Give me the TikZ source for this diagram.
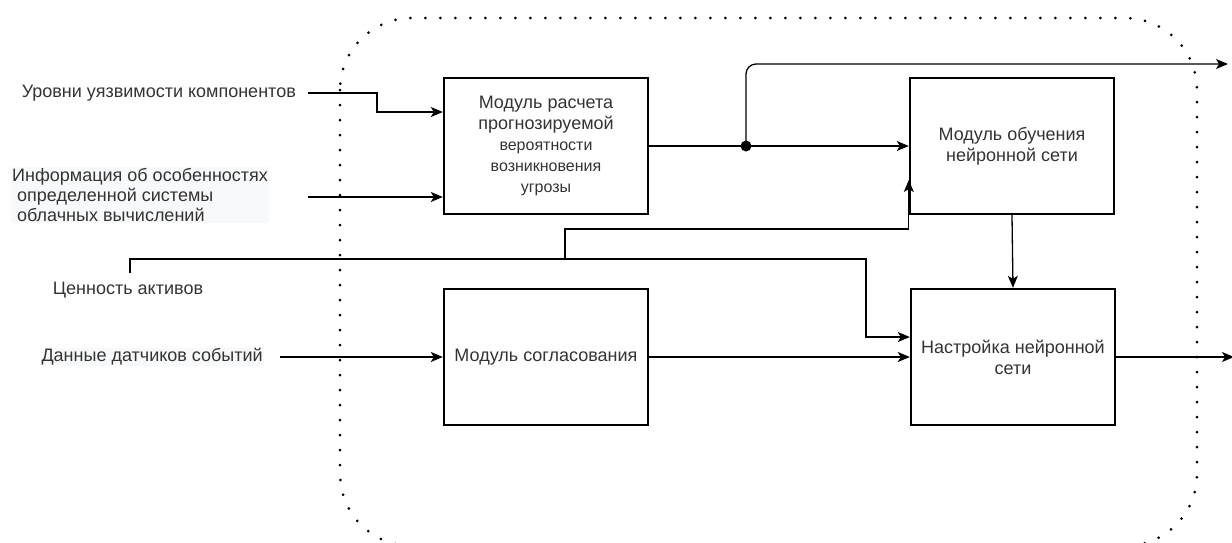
\documentclass[tikz,border=0pt]{standalone}
\usepackage{fontspec}
\setmainfont{Liberation Sans}
\usetikzlibrary{arrows.meta,calc}
\definecolor{txt}{HTML}{333333}
\definecolor{lbg}{HTML}{F8F9FA}
\begin{document}
\begin{tikzpicture}[x=1pt,y=-1pt,
  box/.style={draw=black,line width=2.4pt,minimum width=204pt,minimum height=136pt,inner sep=0pt,align=center,text=txt,font=\fontsize{18}{21}\selectfont},
  lbl/.style={inner sep=0pt,text=txt,font=\fontsize{18}{20}\selectfont},
  conn/.style={draw=black,line width=1.3pt,-{Stealth[length=12pt,width=10pt,inset=3pt]}},
  wire/.style={draw=black,line width=1.3pt},
  frame/.style={draw=black,line width=3pt,dash pattern=on 0pt off 15pt,line cap=round,rounded corners=72pt}
]
\useasboundingbox (0,0) rectangle (1232,542);
% frame
\draw[frame] (340,18) rectangle (1197,546);

% boxes
\node[box] (b1) at (546,146) {Модуль расчета\\прогнозируемой\\{\fontsize{16}{21}\selectfont вероятности}\\{\fontsize{16}{21}\selectfont возникновения}\\{\fontsize{16}{21}\selectfont угрозы}};
\node[box] (b2) at (1012,146) {Модуль обучения\\нейронной сети};
\node[box] (b3) at (546,357) {Модуль согласования};
\node[box] (b4) at (1013,357) {Настройка нейронной\\сети};

% labels
\node[lbl,anchor=east] (l1) at (296,93) {Уровни уязвимости компонентов};
\node[lbl,anchor=west,align=left,fill=lbg,inner sep=1pt] (l2) at (11,195) {Информация об особенностях\\\ определенной системы\\\ облачных вычислений};
\node[lbl] (l3) at (128,290) {Ценность активов};
\node[lbl,anchor=east,fill=lbg,inner sep=1pt] (l4) at (264,357) {Данные датчиков событий};

% free ends
\coordinate (s1) at (308,93);
\coordinate (s2) at (308,197);
\coordinate (s3) at (130,273);
\coordinate (s4) at (280,357);
\coordinate (j1) at (746,146);
\coordinate (j3) at (565,259);
\coordinate (o1) at (1228,64);
\coordinate (o2) at (1234,357);

% connectors
\draw[conn] (s1) -- (377,93) |- ([yshift=34pt]b1.west);
\draw[conn] (s2) -- ([yshift=-51pt]b1.west);
\draw[conn] (b1.east) -- (b2.west);
\draw[conn,rounded corners=10pt] (j1) -- (746,64) -- (o1);
\fill (j1) circle (5.5pt);
\draw[wire] (s3) -- (130,259) -- (j3);
\draw[conn] (j3) -- (866,259) |- ([yshift=20pt]b4.west);
\draw[conn] (j3) -- (565,229) -| ([yshift=-34pt]b2.west);
\draw[conn] (s4) -- (b3.west);
\draw[conn] (b3.east) -- (b4.west);
\draw[conn] (b2.south) -- (b4.north);
\draw[conn] (b4.east) -- (o2);
\end{tikzpicture}
\end{document}
